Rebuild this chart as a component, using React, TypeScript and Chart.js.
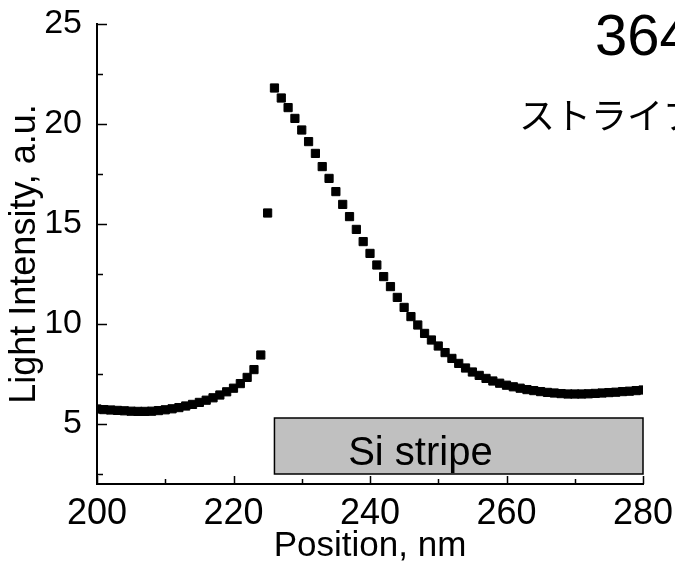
import React, { useEffect, useRef } from "react";
import { Chart, registerables } from "chart.js";

Chart.register(...registerables);

const positions = [
  200, 201, 202, 203, 204, 205, 206, 207, 208, 209,
  210, 211, 212, 213, 214, 215, 216, 217, 218, 219,
  220, 221, 222, 223, 224, 225, 226, 227, 228, 229,
  230, 231, 232, 233, 234, 235, 236, 237, 238, 239,
  240, 241, 242, 243, 244, 245, 246, 247, 248, 249,
  250, 251, 252, 253, 254, 255, 256, 257, 258, 259,
  260, 261, 262, 263, 264, 265, 266, 267, 268, 269,
  270, 271, 272, 273, 274, 275, 276, 277, 278, 279, 280,
];

const intensity = [
  5.75, 5.72, 5.7, 5.68, 5.66, 5.64, 5.63, 5.63, 5.64, 5.67,
  5.71, 5.76, 5.82, 5.9, 5.98, 6.08, 6.19, 6.31, 6.45, 6.61,
  6.79, 7.02, 7.33, 7.72, 8.45, 15.55, 21.8, 21.3, 20.82, 20.28,
  19.7, 19.12, 18.53, 17.87, 17.28, 16.62, 15.98, 15.37, 14.73, 14.12,
  13.53, 12.95, 12.37, 11.87, 11.33, 10.83, 10.37, 9.95, 9.53, 9.2,
  8.9, 8.57, 8.28, 8.03, 7.8, 7.6, 7.43, 7.28, 7.15, 7.04,
  6.94, 6.86, 6.79, 6.72, 6.67, 6.62, 6.58, 6.55, 6.52, 6.5,
  6.5, 6.5, 6.51, 6.53, 6.55, 6.57, 6.59, 6.62, 6.64, 6.67, 6.7,
];

const xTickLabels = [200, 220, 240, 260, 280];
const yTickLabels = [5, 10, 15, 20, 25];
const xMinorTicks = [210, 230, 250, 270];
const yMinorTicks = [2.5, 7.5, 12.5, 17.5, 22.5];

const stripeX = [226, 280];
const stripeY = [2.5, 5.3];
const stripeLabel = "Si stripe";
const stripeLabelAt = [236.8, 2.95];

const titleLine1 = "364 nm";
const titleLine2 = "ストライプ";
const xTitle = "Position, nm";
const yTitle = "Light Intensity, a.u.";

const FONT = "'Liberation Sans', Arial, sans-serif";

const overlayPlugin = {
  id: "overlay",
  beforeDatasetsDraw(chart: any) {
    const { ctx, scales } = chart;
    const xs = scales.x;
    const ys = scales.y;
    const x0 = xs.getPixelForValue(stripeX[0]);
    const x1 = xs.getPixelForValue(stripeX[1]);
    const y0 = ys.getPixelForValue(stripeY[1]);
    const y1 = ys.getPixelForValue(stripeY[0]);
    ctx.save();
    ctx.fillStyle = "#c0c0c0";
    ctx.fillRect(x0, y0, x1 - x0, y1 - y0);
    ctx.strokeStyle = "#000";
    ctx.lineWidth = 1.5;
    ctx.strokeRect(x0, y0, x1 - x0, y1 - y0);
    ctx.fillStyle = "#000";
    ctx.font = `40px ${FONT}`;
    ctx.textAlign = "left";
    ctx.textBaseline = "alphabetic";
    ctx.fillText(
      stripeLabel,
      xs.getPixelForValue(stripeLabelAt[0]),
      ys.getPixelForValue(stripeLabelAt[1])
    );
    ctx.restore();
  },
  afterDraw(chart: any) {
    const { ctx, scales, chartArea } = chart;
    const xs = scales.x;
    const ys = scales.y;
    ctx.save();
    ctx.strokeStyle = "#000";
    ctx.lineWidth = 1.5;
    ctx.beginPath();
    yTickLabels.forEach((v) => {
      const y = Math.round(ys.getPixelForValue(v)) + 0.5;
      ctx.moveTo(chartArea.left, y);
      ctx.lineTo(chartArea.left + 10, y);
    });
    yMinorTicks.forEach((v) => {
      const y = Math.round(ys.getPixelForValue(v)) + 0.5;
      ctx.moveTo(chartArea.left, y);
      ctx.lineTo(chartArea.left + 6, y);
    });
    xTickLabels.forEach((v) => {
      const x = Math.round(xs.getPixelForValue(v)) + 0.5;
      ctx.moveTo(x, chartArea.bottom);
      ctx.lineTo(x, chartArea.bottom - 8);
    });
    xMinorTicks.forEach((v) => {
      const x = Math.round(xs.getPixelForValue(v)) + 0.5;
      ctx.moveTo(x, chartArea.bottom);
      ctx.lineTo(x, chartArea.bottom - 5);
    });
    ctx.stroke();

    ctx.fillStyle = "#000";
    ctx.textAlign = "left";
    ctx.textBaseline = "alphabetic";
    ctx.font = `58px ${FONT}`;
    ctx.fillText(titleLine1, 595, 55);
    ctx.font = `36px 'Noto Sans CJK JP', sans-serif`;
    ctx.textBaseline = "middle";
    ctx.fillText(titleLine2, 519, 115);
    ctx.restore();
  },
};

export default function App() {
  const ref = useRef<HTMLCanvasElement | null>(null);

  useEffect(() => {
    if (!ref.current) return;
    const data = positions.map((x, i) => ({ x, y: intensity[i] }));
    const chart = new Chart(ref.current, {
      type: "scatter",
      data: {
        datasets: [
          {
            label: "Light intensity",
            data,
            pointStyle: "rect",
            pointRadius: 5.8,
            pointBorderWidth: 1,
            backgroundColor: "#000",
            borderColor: "#000",
            showLine: false,
          },
        ],
      },
      options: {
        responsive: false,
        animation: false,
        events: [],
        layout: { padding: { top: 24, right: 32, left: 0, bottom: 0 } },
        plugins: {
          legend: { display: false },
          tooltip: { enabled: false },
          title: { display: false },
        },
        scales: {
          x: {
            type: "linear",
            min: 200,
            max: 280,
            afterBuildTicks: (s: any) => {
              s.ticks = xTickLabels.map((v) => ({ value: v }));
            },
            afterFit: (s: any) => {
              s.height = 83;
              s.paddingLeft = 0;
              s.paddingRight = 0;
            },
            grid: { display: true, drawOnChartArea: false, drawTicks: false },
            border: { display: true, color: "#000", width: 2 },
            ticks: {
              color: "#000",
              font: { family: FONT, size: 36 },
              padding: 8,
              maxRotation: 0,
              autoSkip: false,
            },
            title: {
              display: true,
              text: xTitle,
              color: "#000",
              font: { family: FONT, size: 35 },
              padding: { top: 0, bottom: 0 },
            },
          },
          y: {
            type: "linear",
            min: 2,
            max: 25,
            afterBuildTicks: (s: any) => {
              s.ticks = yTickLabels.map((v) => ({ value: v }));
            },
            afterFit: (s: any) => {
              s.width = 97;
              s.paddingTop = 0;
              s.paddingBottom = 0;
            },
            grid: { display: true, drawOnChartArea: false, drawTicks: false },
            border: { display: true, color: "#000", width: 2 },
            ticks: {
              color: "#000",
              font: { family: FONT, size: 34 },
              padding: 15,
              autoSkip: false,
            },
            title: {
              display: true,
              text: yTitle,
              color: "#000",
              font: { family: FONT, size: 36 },
              padding: { top: 3, bottom: 0 },
            },
          },
        },
      },
      plugins: [overlayPlugin],
    });
    return () => chart.destroy();
  }, []);

  return (
    <div style={{ position: "absolute", left: 0, top: 0, width: 675, height: 567, background: "#fff" }}>
      <canvas ref={ref} width={675} height={567} style={{ display: "block" }} />
    </div>
  );
}
